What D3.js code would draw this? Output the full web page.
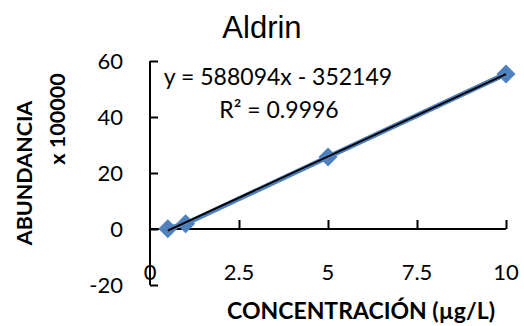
<!DOCTYPE html>
<html>
<head>
<meta charset="utf-8">
<script src="https://cdn.jsdelivr.net/npm/d3@7"></script>
<style>
  body { margin: 0; background: #fff; }
  text { font-family: Lato, "Open Sans", sans-serif; fill: #000; }
</style>
</head>
<body>
<div id="chart"></div>
<script>
var svgWidth = 524;
var svgHeight = 326;

// data (abundance x 100000)
var concentrations = [0.5, 1, 5, 10];
var abundances = [0.1, 1.9, 25.7, 55.4];
var xTicks = [0, 2.5, 5, 7.5, 10];
var yTicks = [-20, 0, 20, 40, 60];
var trendSlope = 588094 / 100000;
var trendIntercept = -352149 / 100000;
var equationText = "y = 588094x - 352149";
var r2Text = "R² = 0.9996";

var margin = { top: 61, right: 18, bottom: 41, left: 150 };

var svg = d3.select("#chart")
  .append("svg")
  .attr("width", svgWidth)
  .attr("height", svgHeight);

var chartGroup = svg.append("g")
  .attr("transform", `translate(${margin.left}, ${margin.top})`);

var xScale = d3.scaleLinear().domain([0, 10]).range([0, 356]);
var yScale = d3.scaleLinear().domain([-20, 60]).range([224, 0]);

// x axis at y = 0, ticks pointing up
var xAxis = chartGroup.append("g")
  .attr("transform", `translate(0, ${yScale(0)})`)
  .call(d3.axisTop(xScale).tickValues(xTicks.slice(1)).tickSize(9).tickFormat(""));
xAxis.select(".domain").attr("d", `M0,0H${xScale(10)}`);

// y axis, ticks pointing right
var yAxis = chartGroup.append("g")
  .call(d3.axisRight(yScale).tickValues(yTicks).tickSize(8).tickFormat(""));
yAxis.select(".domain").attr("d", `M0,${yScale(-20)}V${yScale(60)}`);

chartGroup.selectAll(".domain, .tick line")
  .attr("stroke", "#000")
  .attr("stroke-width", 2);

// tick labels
chartGroup.selectAll(".xlab")
  .data(xTicks)
  .enter()
  .append("text")
  .attr("x", d => xScale(d))
  .attr("y", yScale(-20) - 13)
  .attr("dy", "0.35em")
  .attr("text-anchor", "middle")
  .style("font-size", "22px")
  .text(d => d);

chartGroup.selectAll(".ylab")
  .data(yTicks)
  .enter()
  .append("text")
  .attr("x", -27)
  .attr("y", d => yScale(d))
  .attr("dy", "0.35em")
  .attr("text-anchor", "end")
  .style("font-size", "22px")
  .text(d => d);

// series line + markers
var line = d3.line()
  .x((d, i) => xScale(concentrations[i]))
  .y(d => yScale(d));

chartGroup.append("path")
  .datum(abundances)
  .attr("d", line)
  .attr("fill", "none")
  .attr("stroke", "#4F81BD")
  .attr("stroke-width", 5);

chartGroup.selectAll(".pt")
  .data(abundances)
  .enter()
  .append("path")
  .attr("d", d3.symbol().type(d3.symbolDiamond2).size(230))
  .attr("transform", (d, i) => `translate(${xScale(concentrations[i])}, ${yScale(d)})`)
  .attr("fill", "#4F81BD");

// trendline
var x0 = d3.min(concentrations), x1 = d3.max(concentrations);
chartGroup.append("line")
  .attr("x1", xScale(x0))
  .attr("y1", yScale(trendSlope * x0 + trendIntercept))
  .attr("x2", xScale(x1))
  .attr("y2", yScale(trendSlope * x1 + trendIntercept))
  .attr("stroke", "#000")
  .attr("stroke-width", 2);

// equation
svg.append("text")
  .attr("x", 278)
  .attr("y", 77)
  .attr("dy", "0.35em")
  .attr("text-anchor", "middle")
  .style("font-size", "23px")
  .text(equationText);

svg.append("text")
  .attr("x", 279)
  .attr("y", 110)
  .attr("dy", "0.35em")
  .attr("text-anchor", "middle")
  .style("font-size", "23px")
  .text(r2Text);

// title
svg.append("text")
  .attr("x", 262)
  .attr("y", 27)
  .attr("dy", "0.35em")
  .attr("text-anchor", "middle")
  .style("font-family", "'Liberation Sans', Arial, sans-serif")
  .style("font-size", "31px")
  .text("Aldrin");

// axis labels
svg.append("text")
  .attr("transform", "translate(24, 173) rotate(-90)")
  .attr("dy", "0.35em")
  .attr("text-anchor", "middle")
  .style("font-size", "21.5px")
  .style("font-weight", "bold")
  .text("ABUNDANCIA");

svg.append("text")
  .attr("transform", "translate(57, 119) rotate(-90)")
  .attr("dy", "0.35em")
  .attr("text-anchor", "middle")
  .style("font-size", "21.5px")
  .style("font-weight", "bold")
  .text("x 100000");

svg.append("text")
  .attr("x", 361)
  .attr("y", 311)
  .attr("dy", "0.35em")
  .attr("text-anchor", "middle")
  .style("font-size", "23px")
  .style("font-weight", "bold")
  .text("CONCENTRACIÓN (µg/L)");
</script>
</body>
</html>
